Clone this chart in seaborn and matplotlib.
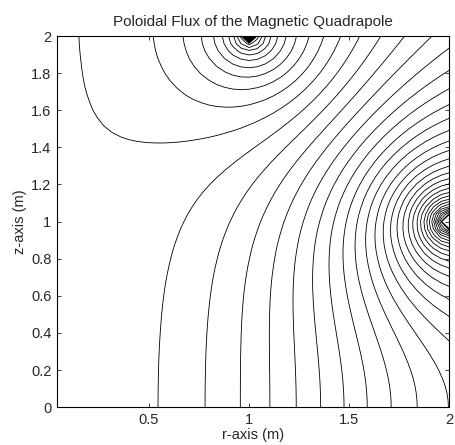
import numpy as np
import matplotlib
matplotlib.use("Agg")
import matplotlib.pyplot as plt
import seaborn as sns

# current loops: radius (m), height (m), current; the z<0 pair mirrors the z>0 pair
coil_r = [1.0, 1.0, 2.0, 2.0]
coil_z = [2.0, -2.0, 1.0, -1.0]
coil_current = [1.0, 1.0, -1.0, -1.0]

# computation grid
r_grid = np.linspace(0.04, 2.0, 50)
z_grid = np.linspace(0.0, 2.0, 51)

# radii where the first two flux lines meet z = 0
base_crossings = [0.545, 0.78]
level_index = np.arange(-30, 32)

x_ticks = [0.5, 1, 1.5, 2]
y_ticks = [0, 0.2, 0.4, 0.6, 0.8, 1, 1.2, 1.4, 1.6, 1.8, 2]


def elliptic_ke(m):
    # complete elliptic integrals K(m), E(m) by the AGM
    a = np.ones_like(m)
    b = np.sqrt(1 - m)
    s = 0.5 * m
    w = 1.0
    for _ in range(30):
        c = (a - b) / 2
        a, b = (a + b) / 2, np.sqrt(a * b)
        s = s + w * c**2
        w *= 2
    K = np.pi / (2 * a)
    return K, K * (1 - s)


def loop_flux(R, Z, I, r, z):
    m = 4 * R * r / ((R + r)**2 + (z - Z)**2)
    m = np.minimum(m, 1 - 1e-9)
    K, E = elliptic_ke(m)
    return I * np.sqrt(R * r) / np.sqrt(m) * ((1 - m / 2) * K - E)


rr, zz = np.meshgrid(r_grid, z_grid)
psi = np.zeros_like(rr)
for R, Z, I in zip(coil_r, coil_z, coil_current):
    psi += loop_flux(R, Z, I, rr, zz)

p0 = np.interp(base_crossings[0], r_grid, psi[0])
p1 = np.interp(base_crossings[1], r_grid, psi[0])
levels = np.sort(p0 + (p0 - p1) * level_index)

sns.set_style("ticks", {"xtick.direction": "in", "ytick.direction": "in"})
plt.rcParams['font.family'] = ['Liberation Sans', 'DejaVu Sans']

fig = plt.figure(figsize=(4.56, 4.45), dpi=100)
ax = fig.add_axes([0.125, 0.085, 0.86, 0.834])
ax.contour(rr, zz, psi, levels=levels, colors='k', linewidths=0.6,
           linestyles='solid')

ax.set_xlim(0.04, 2)
ax.set_ylim(0, 2)
ax.set_xticks(x_ticks)
ax.set_xticklabels([f"{v:g}" for v in x_ticks])
ax.set_yticks(y_ticks)
ax.set_yticklabels([f"{v:g}" for v in y_ticks])
ax.tick_params(top=True, right=True, length=3, width=0.6, labelsize=10.5, pad=4)
for s in ax.spines.values():
    s.set_linewidth(0.8)
    s.set_color('k')

ax.set_title("Poloidal Flux of the Magnetic Quadrapole", fontsize=11, pad=7)
ax.set_xlabel("r-axis (m)", fontsize=10.5, labelpad=1)
ax.set_ylabel("z-axis (m)", fontsize=10.5, labelpad=3)

fig.savefig("out.png", dpi=100)
